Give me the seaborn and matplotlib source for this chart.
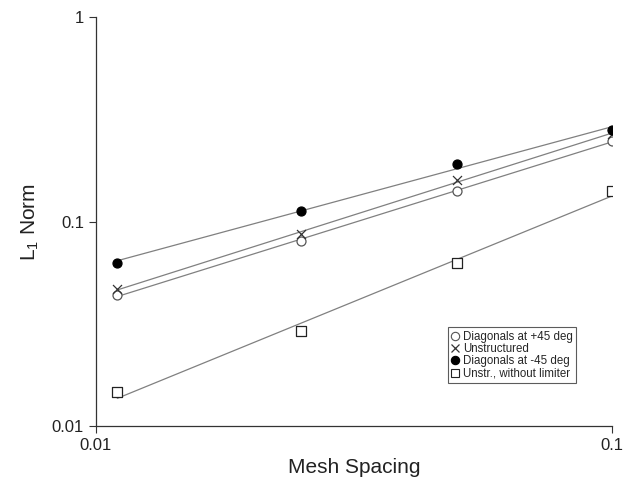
import numpy as np
import pandas as pd
import matplotlib
matplotlib.use("Agg")
import matplotlib.pyplot as plt
import seaborn as sns
from matplotlib.lines import Line2D

sns.set_theme(style="white")
plt.rcParams['font.family'] = ['Liberation Sans', 'DejaVu Sans']
plt.rcParams['mathtext.fontset'] = 'custom'
plt.rcParams['mathtext.rm'] = 'Liberation Sans'
plt.rcParams['mathtext.default'] = 'regular'

mesh_spacing = [0.011, 0.025, 0.05, 0.1]
diag_plus45 = [0.0437, 0.080, 0.1415, 0.248]
unstructured = [0.0466, 0.087, 0.160, 0.268]
diag_minus45 = [0.063, 0.113, 0.192, 0.279]
unstr_no_limiter = [0.0146, 0.0292, 0.0627, 0.1415]

series_names = ["Diagonals at +45 deg", "Unstructured",
                "Diagonals at -45 deg", "Unstr., without limiter"]
series_values = [diag_plus45, unstructured, diag_minus45, unstr_no_limiter]
x_ticks = [0.01, 0.1]
x_tick_labels = ["0.01", "0.1"]
y_ticks = [0.01, 0.1, 1]
y_tick_labels = ["0.01", "0.1", "1"]

styles = {
    "Diagonals at +45 deg": dict(marker="o", facecolor="white", edgecolor="#555555", size=42),
    "Unstructured": dict(marker="x", facecolor="#333333", edgecolor="#333333", size=42),
    "Diagonals at -45 deg": dict(marker="o", facecolor="black", edgecolor="black", size=42),
    "Unstr., without limiter": dict(marker="s", facecolor="white", edgecolor="#222222", size=42),
}

fig = plt.figure(figsize=(6.31, 4.78), dpi=100)
ax = fig.add_axes([0.152, 0.1088, 0.818, 0.8556])

xs = np.array(mesh_spacing)
for name, vals in zip(series_names, series_values):
    ys = np.array(vals)
    # power-law trendline (log-log least squares fit)
    b, a = np.polyfit(np.log10(xs), np.log10(ys), 1)
    xf = np.array([xs.min(), xs.max()])
    yf = 10 ** (a + b * np.log10(xf))
    fit_df = pd.DataFrame({"x": xf, "y": yf})
    sns.lineplot(data=fit_df, x="x", y="y", ax=ax, color="#808080", lw=0.9,
                 legend=False, zorder=2)
    df = pd.DataFrame({"x": xs, "y": ys})
    st = styles[name]
    if st["marker"] == "x":
        sns.scatterplot(data=df, x="x", y="y", ax=ax, marker="x",
                        color=st["edgecolor"], s=st["size"], linewidth=0.9, zorder=3)
    else:
        sns.scatterplot(data=df, x="x", y="y", ax=ax, marker=st["marker"],
                        facecolor=st["facecolor"], edgecolor=st["edgecolor"],
                        s=st["size"], linewidth=0.9, zorder=3)

ax.set_xscale("log")
ax.set_yscale("log")
ax.set_xlim(0.01, 0.1)
ax.set_ylim(0.01, 1)
ax.set_xticks(x_ticks)
ax.set_xticklabels(x_tick_labels)
ax.set_yticks(y_ticks)
ax.set_yticklabels(y_tick_labels)
ax.minorticks_off()
ax.tick_params(axis="both", which="major", direction="out", length=5, width=0.8,
               color="#333333", labelsize=12, labelcolor="#222222", bottom=True, left=True)
ax.tick_params(axis="x", pad=4)
for s in ["top", "right"]:
    ax.spines[s].set_visible(False)
for s in ["left", "bottom"]:
    ax.spines[s].set_color("#333333")
    ax.spines[s].set_linewidth(0.9)

ax.set_xlabel("Mesh Spacing", fontsize=15, color="#222222", labelpad=3)
ax.set_ylabel("L$_1$ Norm", fontsize=15, color="#222222", labelpad=8)

handles = []
for name in series_names:
    st = styles[name]
    if st["marker"] == "x":
        h = Line2D([], [], marker="x", ls="none", color=st["edgecolor"], markersize=6, mew=0.9)
    else:
        h = Line2D([], [], marker=st["marker"], ls="none", markerfacecolor=st["facecolor"],
                   markeredgecolor=st["edgecolor"], markersize=6, mew=0.8)
    handles.append(h)
leg = ax.legend(handles, series_names, loc="lower left", bbox_to_anchor=(0.682, 0.105),
                fontsize=8.3, frameon=True, fancybox=False, edgecolor="#333333",
                handlelength=0.7, handletextpad=0.3, labelspacing=0.02,
                borderpad=0.3, borderaxespad=0)
leg.get_frame().set_linewidth(0.8)

fig.savefig("out.png", dpi=100)
